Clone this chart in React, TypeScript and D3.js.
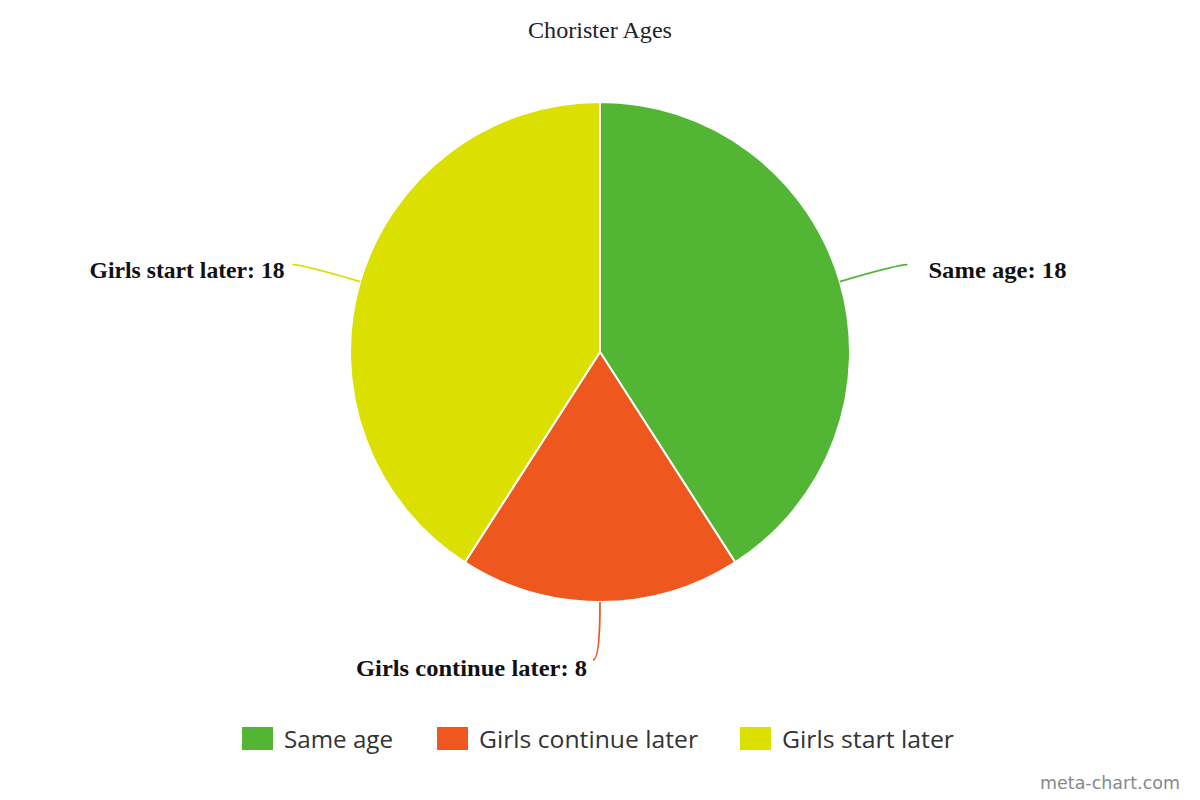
import React from "react";
import * as d3 from "d3";

const categories = ["Same age", "Girls continue later", "Girls start later"];
const values = [18, 8, 18];
const colors = ["#53b534", "#ee571d", "#dbe000"];
const labelWidths = [138, 231, 195];
const legendWidths = [109, 219, 172];

const W = 1200;
const H = 800;
const cx = 600;
const cy = 352;
const R = 250;

export default function App() {
  const pie = d3.pie<number>().sort(null).value((d) => d);
  const arcs = pie(values);
  const arc = d3.arc<d3.PieArcDatum<number>>().innerRadius(0).outerRadius(R);

  const legendX = [242, 437, 740];

  return (
    <svg width={W} height={H} style={{ position: "absolute", left: 0, top: 0, background: "#fff" }}>
      <text x={600} y={38} textAnchor="middle" fontFamily="Liberation Serif" fontSize={23} fill="#222" textLength={144} lengthAdjust="spacingAndGlyphs">
        Chorister Ages
      </text>
      <g transform={`translate(${cx},${cy})`}>
        {arcs.map((a, i) => (
          <path key={i} d={arc(a) || ""} fill={colors[i]} stroke="#fff" strokeWidth={2} />
        ))}
      </g>
      {arcs.map((a, i) => {
        const mid = (a.startAngle + a.endAngle) / 2;
        const s = Math.sin(mid);
        const c = -Math.cos(mid);
        const ex = cx + R * s;
        const ey = cy + R * c;
        const side = Math.abs(s) < 0.1;
        const ext = side ? 58 : 60;
        const kx = cx + (R + ext) * s;
        const ky = cy + (R + ext) * c;
        const right = !side && s > 0;
        const endX = side ? kx - 7 : kx + (right ? 10 : -10);
        const endY = ky;
        const path = `M${ex},${ey}Q${kx},${ky} ${endX},${endY}`;
        const tx = right ? endX + 21 : endX - (side ? 6 : 8);
        const ty = endY + (side ? 16 : 13);
        return (
          <g key={i}>
            <path d={path} fill="none" stroke={colors[i]} strokeWidth={1.8} />
            <text x={tx} y={ty} textAnchor={right ? "start" : "end"} fontFamily="Liberation Serif" fontWeight="bold" fontSize={23} fill="#111" textLength={labelWidths[i]} lengthAdjust="spacingAndGlyphs">
              {`${categories[i]}: ${values[i]}`}
            </text>
          </g>
        );
      })}
      {categories.map((cat, i) => (
        <g key={cat}>
          <rect x={legendX[i]} y={727} width={31} height={23} fill={colors[i]} />
          <text x={legendX[i] + 42} y={748} fontFamily="Open Sans" fontSize={24} fill="#333" textLength={legendWidths[i]} lengthAdjust="spacingAndGlyphs">
            {cat}
          </text>
        </g>
      ))}
      <text x={1180} y={789} textAnchor="end" fontFamily="DejaVu Sans" fontSize={17} fill="#888" textLength={140} lengthAdjust="spacingAndGlyphs">
        meta-chart.com
      </text>
    </svg>
  );
}
